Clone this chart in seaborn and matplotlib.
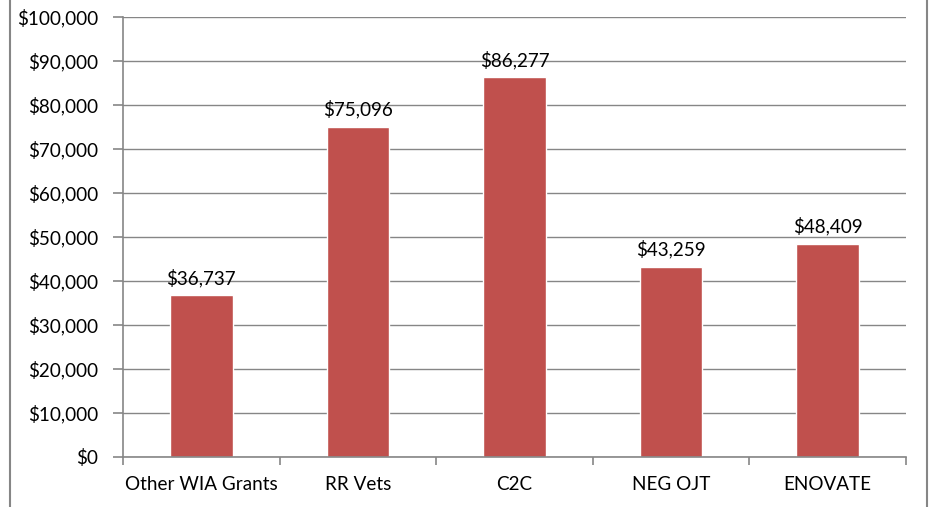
"""Average cost per participant by grant, Excel-style bar chart."""

import matplotlib

matplotlib.use("Agg")
import matplotlib.pyplot as plt
import pandas as pd
import seaborn as sns
from matplotlib.lines import Line2D
from matplotlib.ticker import FuncFormatter, MultipleLocator

GRANTS = ["Other WIA Grants", "RR Vets", "C2C", "NEG OJT", "ENOVATE"]
COSTS = [36737, 75096, 86277, 43259, 48409]

BAR_COLOR = "#C0504D"
GRID_COLOR = "#868686"
FONT = ["Lato", "DejaVu Sans"]
FONT_SIZE = 13.6

df = pd.DataFrame({"grant": GRANTS, "cost": COSTS})

sns.set_theme(style="white")
plt.rcParams["font.family"] = FONT

fig = plt.figure(figsize=(9.3, 5.07), dpi=100)
ax = fig.add_axes([123 / 930, 1 - 457 / 507, (906 - 123) / 930, (457 - 17) / 507])

sns.barplot(data=df, x="grant", y="cost", color=BAR_COLOR, width=0.4, saturation=1, ax=ax)

ax.set_ylim(0, 100000)
ax.set_xlim(-0.5, len(GRANTS) - 0.5)
ax.yaxis.set_major_locator(MultipleLocator(10000))
ax.yaxis.set_major_formatter(FuncFormatter(lambda v, _: f"${v:,.0f}"))
ax.grid(axis="y", color=GRID_COLOR, linewidth=1)
ax.set_axisbelow(True)
ax.set_xlabel("")
ax.set_ylabel("")

for side in ["top", "right"]:
    ax.spines[side].set_visible(False)
for side in ["left", "bottom"]:
    ax.spines[side].set_color(GRID_COLOR)
    ax.spines[side].set_linewidth(1.2)

# category labels centred, boundary tick marks below the axis
ax.set_xticks(range(len(GRANTS)))
ax.set_xticklabels(GRANTS, fontsize=FONT_SIZE, color="black")
ax.tick_params(axis="x", length=0, pad=14)
ax.set_xticks([i - 0.5 for i in range(len(GRANTS) + 1)], minor=True)
ax.tick_params(axis="x", which="minor", length=6, color=GRID_COLOR, width=1.2, bottom=True)
ax.tick_params(axis="y", length=7, color=GRID_COLOR, width=1.2, labelsize=FONT_SIZE,
               labelcolor="black", left=True, pad=11)

for i, v in enumerate(COSTS):
    ax.annotate(f"${v:,}", (i, v), xytext=(0, 6), textcoords="offset points",
                ha="center", va="bottom", fontsize=FONT_SIZE, color="black")

# chart frame edges visible at the sides of the crop
fig.add_artist(Line2D([10 / 930, 10 / 930], [0, 1], color=GRID_COLOR, linewidth=1.5))
fig.add_artist(Line2D([927 / 930, 927 / 930], [0, 1], color=GRID_COLOR, linewidth=1.5))

fig.savefig("out.png", dpi=100, facecolor="white")
